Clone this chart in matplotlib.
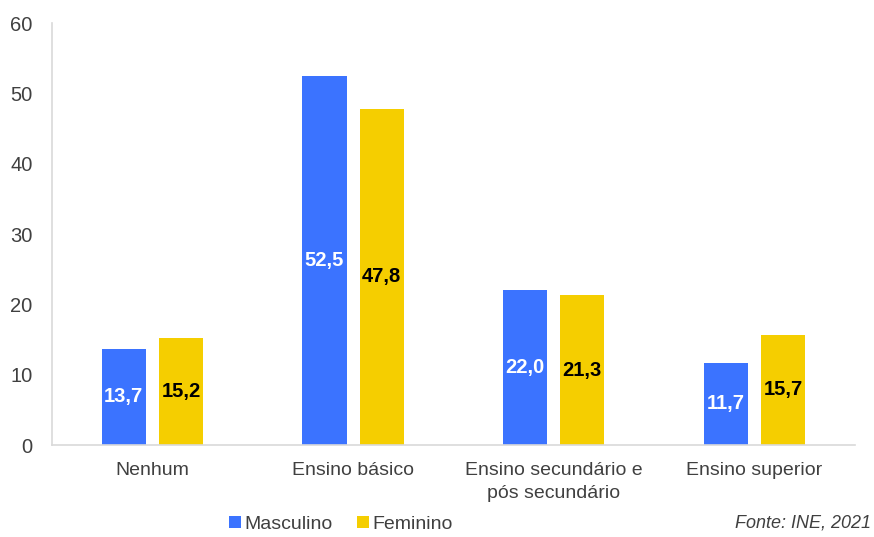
import matplotlib.pyplot as plt
import numpy as np

plt.rcParams['font.family'] = ['Liberation Sans', 'DejaVu Sans']

categorias = ['Nenhum', 'Ensino básico', 'Ensino secundário e\npós secundário', 'Ensino superior']
masculino = [13.7, 52.5, 22.0, 11.7]
feminino = [15.2, 47.8, 21.3, 15.7]

azul = '#3B73FF'
amarelo = '#F5CE00'

fig = plt.figure(figsize=(8.74, 5.37), dpi=100)
ax = fig.add_axes([0.0595, 0.1713, 0.9185, 0.7857])

x = np.arange(len(categorias))
w = 0.22
off = 0.1425
b1 = ax.bar(x - off, masculino, w, color=azul, label='Masculino')
b2 = ax.bar(x + off, feminino, w, color=amarelo, label='Feminino')

for xi, v in zip(x, masculino):
    ax.text(xi - off, v / 2, f'{v:.1f}'.replace('.', ','), ha='center', va='center',
            color='white', fontsize=14.5, fontweight='bold')
for xi, v in zip(x, feminino):
    ax.text(xi + off, v / 2, f'{v:.1f}'.replace('.', ','), ha='center', va='center',
            color='black', fontsize=14.5, fontweight='bold')

ax.set_xlim(-0.5, 3.5)
ax.set_ylim(0, 60)
ax.set_yticks(range(0, 61, 10))
ax.set_xticks(x)
ax.set_xticklabels(categorias, fontsize=14, color='#404040', linespacing=1.45)
ax.tick_params(axis='y', labelsize=14.5, labelcolor='#404040', length=0, pad=14)
ax.tick_params(axis='x', length=0, pad=12)
for s in ['top', 'right']:
    ax.spines[s].set_visible(False)
for s in ['left', 'bottom']:
    ax.spines[s].set_color('#D9D9D9')
    ax.spines[s].set_linewidth(1.2)

fig.legend(handles=[b1, b2], loc='center', bbox_to_anchor=(0.39, 0.024), ncol=2,
           frameon=False, fontsize=14, labelcolor='#404040', handlelength=0.6,
           handleheight=0.6, handletextpad=0.15, columnspacing=1.3)
fig.text(0.997, 0.026, 'Fonte: INE, 2021', fontsize=13, style='italic', color='#404040',
         va='center', ha='right')

fig.savefig('out.png', dpi=100)
